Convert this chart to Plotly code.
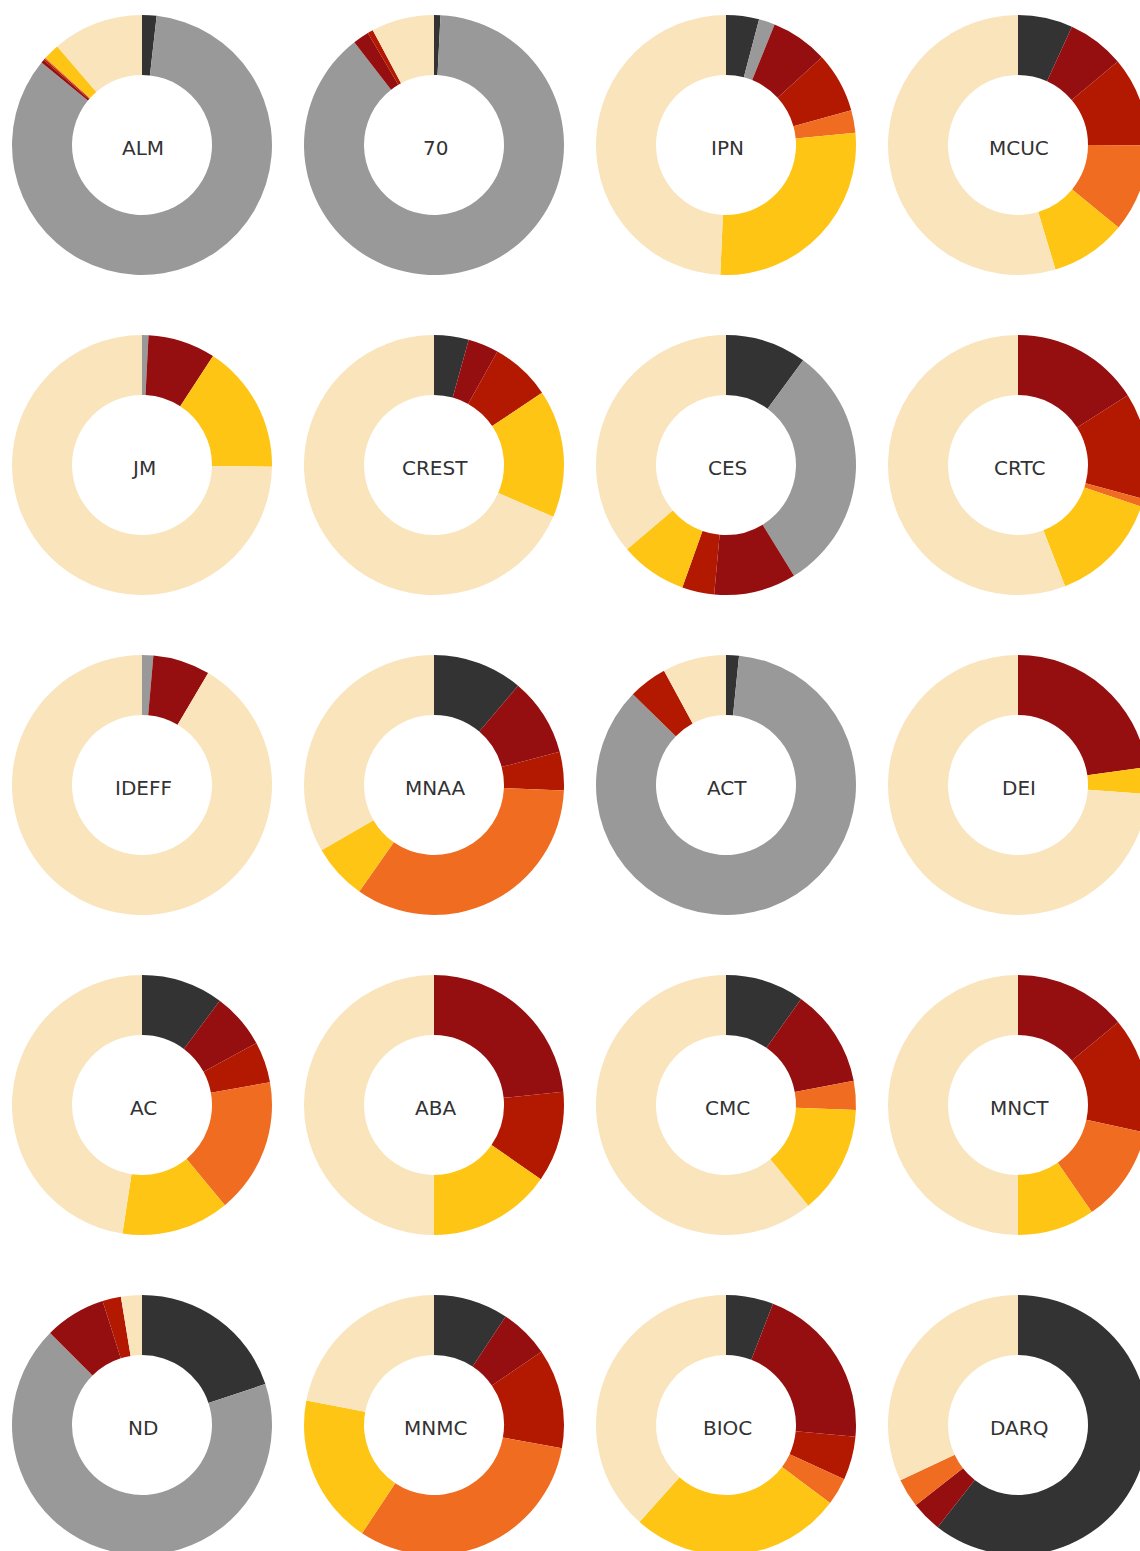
import plotly.graph_objects as go

# Donut labels, in reading order (4 per row)
names = ["ALM", "70", "IPN", "MCUC",
         "JM", "CREST", "CES", "CRTC",
         "IDEFF", "MNAA", "ACT", "DEI",
         "AC", "ABA", "CMC", "MNCT",
         "ND", "MNMC", "BIOC", "DARQ"]

# Segment categories, drawn clockwise from 12 o'clock
segments = ["G1", "G2", "G3", "G4", "G5", "G6", "G7"]

# Share (%) of each segment, one entry per donut
g1 = [1.8, 0.8, 4.1, 6.8, 0.0, 4.3, 10.1, 0.0, 0.0, 11.2, 1.6, 0.0, 10.2, 0.0, 9.8, 0.0, 19.9, 9.3, 5.9, 60.6]
g2 = [84.1, 88.7, 2.0, 0.0, 0.8, 0.0, 31.1, 0.0, 1.4, 0.0, 85.6, 0.0, 0.0, 0.0, 0.0, 0.0, 67.6, 0.0, 0.0, 0.0]
g3 = [0.4, 2.0, 7.1, 7.1, 8.4, 3.8, 10.2, 16.0, 7.1, 9.7, 0.0, 22.8, 6.9, 23.4, 12.2, 14.0, 7.6, 6.2, 20.6, 3.8]
g4 = [0.2, 0.7, 7.5, 11.1, 0.0, 7.5, 4.0, 13.2, 0.0, 4.8, 4.8, 0.0, 5.1, 11.3, 0.0, 14.4, 2.3, 12.4, 5.4, 0.0]
g5 = [0.15, 0.0, 2.8, 10.9, 0.0, 0.0, 0.0, 1.0, 0.0, 34.1, 0.0, 0.0, 16.8, 0.0, 3.6, 12.0, 0.0, 31.5, 3.4, 3.6]
g6 = [2.0, 0.0, 27.2, 9.4, 16.0, 15.9, 8.3, 13.9, 0.0, 6.9, 0.0, 3.3, 13.4, 15.4, 13.5, 9.6, 0.0, 18.7, 26.4, 0.0]
g7 = [11.3, 7.8, 49.3, 54.6, 74.8, 68.4, 36.2, 55.9, 91.5, 33.4, 7.9, 73.9, 47.6, 50.0, 60.9, 50.0, 2.6, 22.0, 38.5, 32.0]

colors = ["#333333", "#999999", "#960f10", "#b31800", "#ef6c21", "#fec515", "#f9e4bc"]

# Page geometry (px)
W, H = 1160, 1560
col_x = [142, 434, 726, 1018]
row_y = [145, 465, 785, 1105, 1425]
R = 130
HOLE = 70 / 130

fig = go.Figure()
series = [g1, g2, g3, g4, g5, g6, g7]
for i, name in enumerate(names):
    cx = col_x[i % 4]
    cy = row_y[i // 4]
    vals = [s[i] for s in series]
    fig.add_trace(go.Pie(
        labels=segments,
        values=vals,
        sort=False,
        direction="clockwise",
        rotation=0,
        hole=HOLE,
        marker=dict(colors=colors, line=dict(width=0)),
        textinfo="none",
        hoverinfo="label+percent",
        showlegend=False,
        domain=dict(x=[(cx - R) / W, (cx + R) / W],
                    y=[1 - (cy + R) / H, 1 - (cy - R) / H]),
    ))
    # centre label inside the hole
    fig.add_annotation(
        x=cx / W, y=1 - cy / H, xref="paper", yref="paper",
        text=name, showarrow=False, xanchor="center", yanchor="middle",
        yshift=-3, xshift=1,
        font=dict(family="DejaVu Sans", size=20, color="#333333"),
    )

fig.update_layout(
    width=W,
    height=H,
    margin=dict(l=0, r=0, t=0, b=0),
    paper_bgcolor="white",
    plot_bgcolor="white",
)

fig.write_html(
    "out.html",
    post_script="document.body.style.margin='0';document.body.style.overflow='hidden';",
)
